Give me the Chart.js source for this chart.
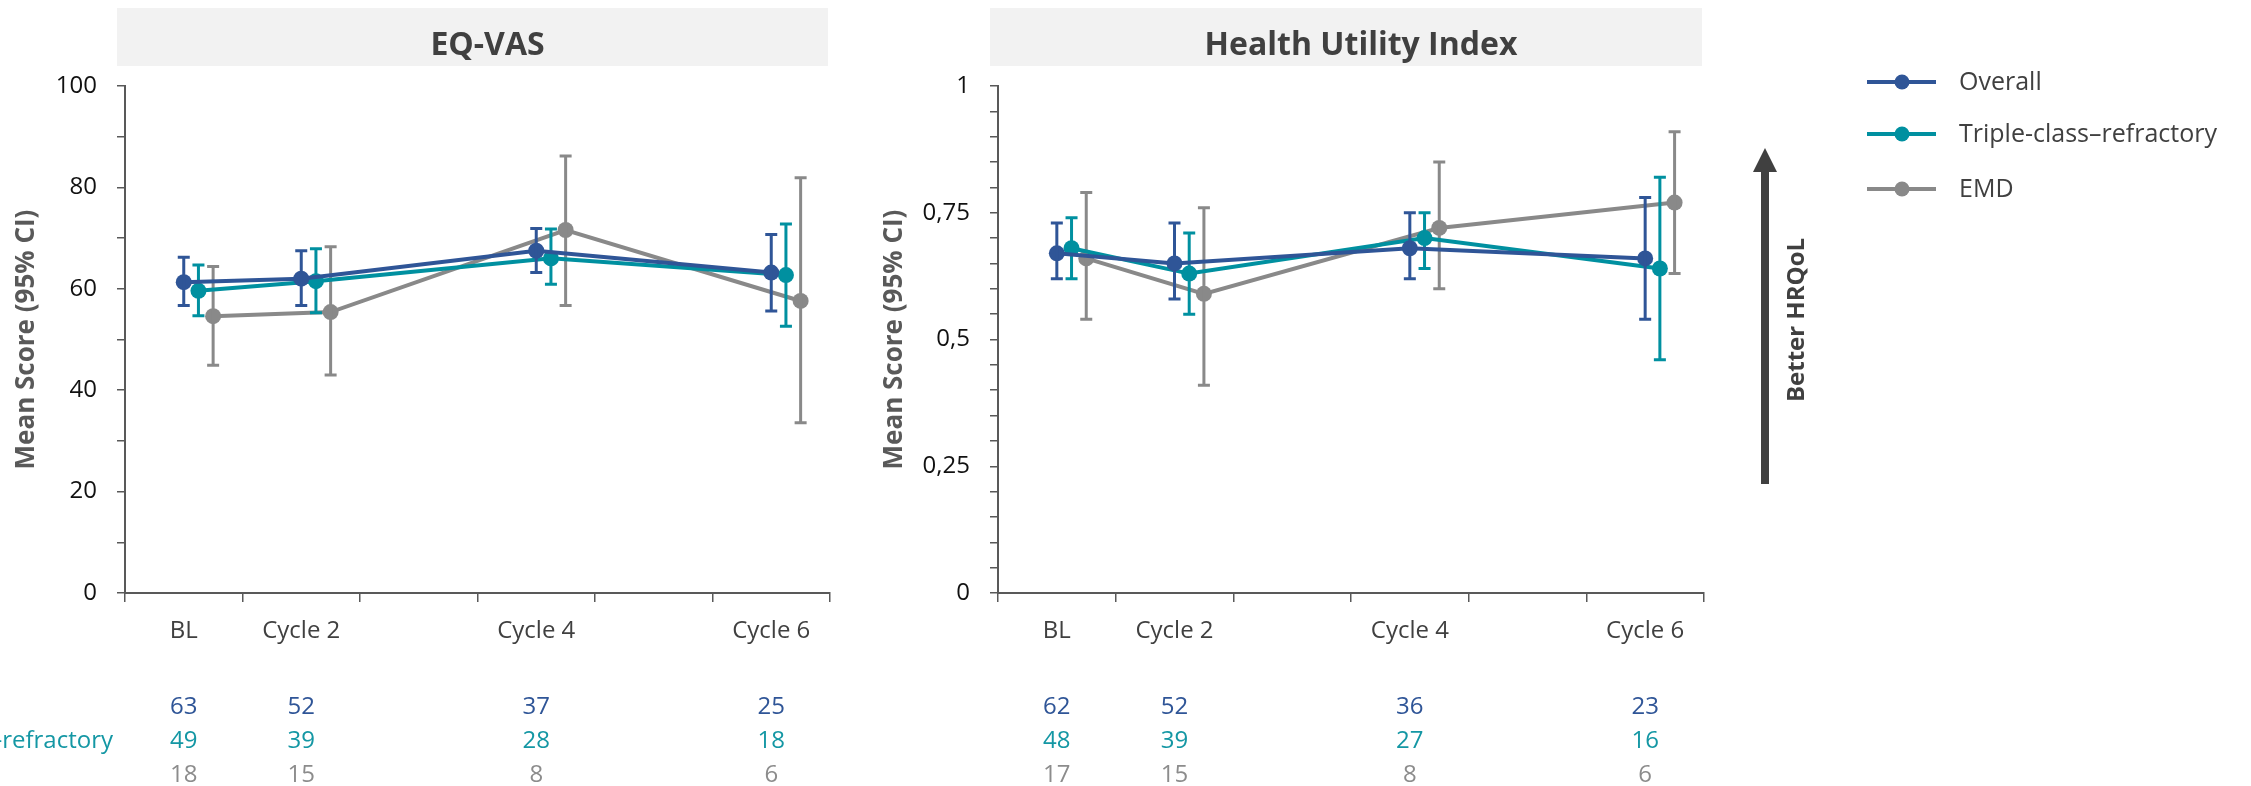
<!DOCTYPE html>
<html>
<head>
<meta charset="utf-8">
<script src="https://cdn.jsdelivr.net/npm/chart.js@4.4.1/dist/chart.umd.min.js"></script>
<style>
html, body { margin: 0; padding: 0; background: #fff; overflow: hidden; }
#wrap { position: relative; width: 2251px; height: 786px; }
#vas { position: absolute; left: 0; top: 0; }
#hui { position: absolute; left: 860px; top: 0; }
</style>
</head>
<body>
<div id="wrap">
  <canvas id="vas" width="860" height="786"></canvas>
  <canvas id="hui" width="1391" height="786"></canvas>
</div>
<script>
// time points (cycles 3 and 5 keep an empty slot on the axis)
var visits = ['BL', 'Cycle 2', '', 'Cycle 4', '', 'Cycle 6'];
var visitSlots = [0, 1, 3, 5];
var groups = ['Overall', 'Triple-class\u2013refractory', 'EMD'];

// EQ-VAS, mean and 95% CI
var vasOverall   = [61.3, 62.0, 67.5, 63.2];
var vasOverallLo = [56.7, 56.7, 63.2, 55.6];
var vasOverallHi = [66.2, 67.5, 71.9, 70.7];
var vasTcr       = [59.6, 61.5, 66.0, 62.7];
var vasTcrLo     = [54.7, 55.3, 60.9, 52.6];
var vasTcrHi     = [64.7, 67.9, 71.8, 72.8];
var vasEmd       = [54.6, 55.4, 71.6, 57.6];
var vasEmdLo     = [44.9, 43.0, 56.7, 33.6];
var vasEmdHi     = [64.4, 68.3, 86.2, 81.9];
var vasNOverall  = [63, 52, 37, 25];
var vasNTcr      = [49, 39, 28, 18];
var vasNEmd      = [18, 15, 8, 6];

// Health Utility Index, mean and 95% CI
var huiOverall   = [0.67, 0.65, 0.68, 0.66];
var huiOverallLo = [0.62, 0.58, 0.62, 0.54];
var huiOverallHi = [0.73, 0.73, 0.75, 0.78];
var huiTcr       = [0.68, 0.63, 0.70, 0.64];
var huiTcrLo     = [0.62, 0.55, 0.64, 0.46];
var huiTcrHi     = [0.74, 0.71, 0.75, 0.82];
var huiEmd       = [0.66, 0.59, 0.72, 0.77];
var huiEmdLo     = [0.54, 0.41, 0.60, 0.63];
var huiEmdHi     = [0.79, 0.76, 0.85, 0.91];
var huiNOverall  = [62, 52, 36, 23];
var huiNTcr      = [48, 39, 27, 16];
var huiNEmd      = [17, 15, 8, 6];

var lineColors = ['#2f5597', '#0090a0', '#898989'];
var nColors = ['#2f5597', '#1497a4', '#8c8c8c'];
var dodge = [0, 0.125, 0.25];
var FONT = "'Open Sans', sans-serif";
var AXIS = '#595959';
var TEXT = '#404040';

var errorBars = {
  id: 'errorBars',
  afterDatasetDraw: function (chart, args) {
    var ds = chart.data.datasets[args.index];
    var xs = chart.scales.xl, ys = chart.scales.y;
    var ctx = chart.ctx;
    ctx.save();
    ctx.strokeStyle = ds.borderColor;
    ctx.lineWidth = 3;
    ds.data.forEach(function (p, i) {
      var x = xs.getPixelForValue(p.x);
      var y1 = ys.getPixelForValue(ds.lo[i]);
      var y2 = ys.getPixelForValue(ds.hi[i]);
      ctx.beginPath();
      ctx.moveTo(x, y1); ctx.lineTo(x, y2);
      ctx.moveTo(x - 6, y1); ctx.lineTo(x + 6, y1);
      ctx.moveTo(x - 6, y2); ctx.lineTo(x + 6, y2);
      ctx.stroke();
    });
    ctx.restore();
  }
};

var titleBox = {
  id: 'titleBox',
  beforeDraw: function (chart, args, opts) {
    var a = chart.chartArea, ctx = chart.ctx;
    ctx.save();
    ctx.fillStyle = '#f2f2f2';
    ctx.fillRect(a.left - 8, 8, a.right - a.left + 6, 58);
    ctx.fillStyle = TEXT;
    ctx.font = 'bold 32px ' + FONT;
    ctx.textAlign = 'center';
    ctx.textBaseline = 'alphabetic';
    ctx.fillText(opts.text, (a.left + a.right) / 2 + 10, 55);
    ctx.restore();
  }
};

var nTable = {
  id: 'nTable',
  afterDraw: function (chart, args, opts) {
    var a = chart.chartArea, ctx = chart.ctx, xs = chart.scales.xl;
    ctx.save();
    ctx.font = '24px ' + FONT;
    ctx.textBaseline = 'alphabetic';
    opts.rows.forEach(function (row, r) {
      var y = a.bottom + 121 + r * 34;
      ctx.fillStyle = nColors[r];
      ctx.textAlign = 'center';
      row.forEach(function (n, i) {
        ctx.fillText(String(n), xs.getPixelForValue(visitSlots[i]), y);
      });
    });
    if (opts.rowLabels) {
      // group names sit left of the page edge, only the tail of the longest shows
      var x0 = 113 - ctx.measureText(groups[1]).width;
      ctx.textAlign = 'left';
      groups.forEach(function (g, r) {
        ctx.fillStyle = nColors[r];
        ctx.fillText(g, x0, a.bottom + 121 + r * 34);
      });
    }
    ctx.restore();
  }
};

var sideLegend = {
  id: 'sideLegend',
  afterDraw: function (chart) {
    var a = chart.chartArea, ctx = chart.ctx;
    var rowsY = [82, 134, 189];
    ctx.save();
    groups.forEach(function (g, k) {
      var x = a.right + 163, y = rowsY[k];
      ctx.strokeStyle = lineColors[k];
      ctx.lineWidth = 4;
      ctx.beginPath(); ctx.moveTo(x, y); ctx.lineTo(x + 69, y); ctx.stroke();
      ctx.fillStyle = lineColors[k];
      ctx.beginPath(); ctx.arc(x + 35, y, 7.5, 0, Math.PI * 2); ctx.fill();
      ctx.fillStyle = TEXT;
      ctx.font = '25px ' + FONT;
      ctx.textAlign = 'left';
      ctx.textBaseline = 'alphabetic';
      ctx.fillText(g, a.right + 255, y + 8);
    });
    // "Better HRQoL" arrow
    var ax = a.right + 61;
    ctx.fillStyle = '#404040';
    ctx.fillRect(ax - 4, 170, 8, 314);
    ctx.beginPath();
    ctx.moveTo(ax, 148); ctx.lineTo(ax + 12, 172); ctx.lineTo(ax - 12, 172);
    ctx.closePath(); ctx.fill();
    ctx.translate(a.right + 93, 320);
    ctx.rotate(-Math.PI / 2);
    ctx.font = 'bold 24px ' + FONT;
    ctx.textAlign = 'center';
    ctx.textBaseline = 'middle';
    ctx.fillText('Better HRQoL', 0, 0);
    ctx.restore();
  }
};

function makePanel(id, title, series, nRows, yOpts, axisWidth, titlePad, padRight, rowLabels) {
  var datasets = series.map(function (s, k) {
    return {
      label: groups[k],
      data: visitSlots.map(function (v, i) { return { x: v + dodge[k], y: s[0][i] }; }),
      lo: s[1],
      hi: s[2],
      xAxisID: 'xl',
      yAxisID: 'y',
      borderColor: lineColors[k],
      backgroundColor: lineColors[k],
      borderWidth: 4,
      pointRadius: 8,
      pointHoverRadius: 8,
      pointBorderWidth: 0,
      tension: 0
    };
  });
  return new Chart(document.getElementById(id), {
    type: 'line',
    data: { labels: visits, datasets: datasets },
    plugins: [titleBox, errorBars, nTable].concat(id === 'hui' ? [sideLegend] : []),
    options: {
      responsive: false,
      animation: false,
      events: [],
      layout: { padding: { top: 86, right: padRight, bottom: 0, left: 0 } },
      plugins: {
        legend: { display: false },
        tooltip: { enabled: false },
        titleBox: { text: title },
        nTable: { rows: nRows, rowLabels: rowLabels }
      },
      scales: {
        x: {
          type: 'category',
          offset: true,
          grid: { offset: true, drawOnChartArea: false, drawTicks: true, tickLength: 9, color: AXIS, lineWidth: 1.5 },
          border: { color: AXIS, width: 2 },
          ticks: { color: TEXT, font: { family: FONT, size: 24 }, padding: 15, autoSkip: false, maxRotation: 0 },
          afterFit: function (s) { s.height = 193; }
        },
        xl: { type: 'linear', display: false, min: -0.5, max: 5.5 },
        y: {
          min: yOpts.min,
          max: yOpts.max,
          grid: { drawOnChartArea: false, drawTicks: true, tickLength: 8, color: AXIS, lineWidth: 1.5 },
          border: { color: AXIS, width: 2 },
          ticks: {
            stepSize: yOpts.step,
            maxTicksLimit: 100,
            autoSkip: false,
            color: '#111',
            padding: 20,
            font: { family: FONT, size: 24 },
            callback: yOpts.label
          },
          title: {
            display: true,
            text: 'Mean Score (95% CI)',
            color: AXIS,
            font: { family: FONT, size: 26, weight: 'bold' },
            padding: { top: titlePad, bottom: 0 }
          },
          afterFit: function (s) { s.width = axisWidth; }
        }
      }
    }
  });
}

makePanel('vas', 'EQ-VAS',
  [[vasOverall, vasOverallLo, vasOverallHi], [vasTcr, vasTcrLo, vasTcrHi], [vasEmd, vasEmdLo, vasEmdHi]],
  [vasNOverall, vasNTcr, vasNEmd],
  { min: 0, max: 100, step: 10, label: function (v) { return v % 20 === 0 ? String(v) : ''; } },
  125, 11, 30, true);

makePanel('hui', 'Health Utility Index',
  [[huiOverall, huiOverallLo, huiOverallHi], [huiTcr, huiTcrLo, huiTcrHi], [huiEmd, huiEmdLo, huiEmdHi]],
  [huiNOverall, huiNTcr, huiNEmd],
  { min: 0, max: 1, step: 0.05, label: function (v) {
      var k = Math.round(v * 100);
      return k % 25 === 0 ? String(k / 100).replace('.', ',') : '';
    } },
  138, 19, 547, false);
</script>
</body>
</html>
